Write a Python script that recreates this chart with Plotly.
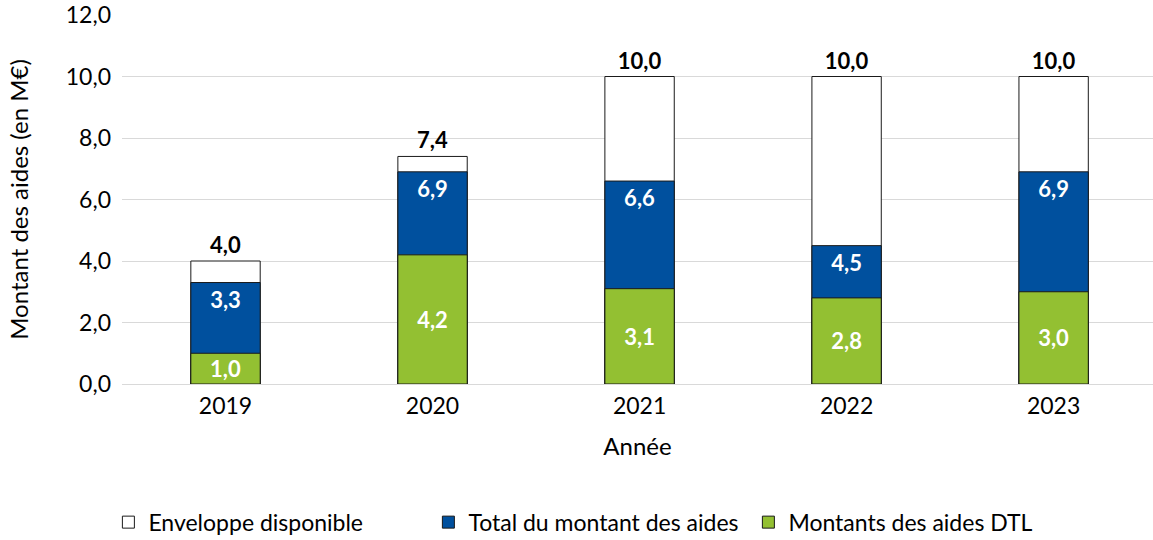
import plotly.graph_objects as go

years = ["2019", "2020", "2021", "2022", "2023"]
enveloppe = [4.0, 7.4, 10.0, 10.0, 10.0]
total_aides = [3.3, 6.9, 6.6, 4.5, 6.9]
aides_dtl = [1.0, 4.2, 3.1, 2.8, 3.0]

def fmt(v):
    return f"{v:.1f}".replace(".", ",")

FONT = "Lato, 'Open Sans', sans-serif"
line = dict(color="#1a1a1a", width=1)
LBL = 22

fig = go.Figure()
fig.add_trace(go.Bar(
    x=years, y=enveloppe, name="Enveloppe disponible",
    marker=dict(color="#ffffff", line=line),
    text=[fmt(v) for v in enveloppe], textposition="outside",
    textfont=dict(family=FONT, size=LBL, color="#000000", weight="bold"),
    cliponaxis=False, width=0.335,
))
fig.add_trace(go.Bar(
    x=years, y=total_aides, name="Total du montant des aides",
    marker=dict(color="#00509e", line=line),
    text=[fmt(v) for v in total_aides], textposition="inside", insidetextanchor="end",
    textfont=dict(family=FONT, size=LBL, color="#ffffff", weight="bold"),
    constraintext="none", width=0.335,
))
fig.add_trace(go.Bar(
    x=years, y=aides_dtl, name="Montants des aides DTL",
    marker=dict(color="#93c032", line=line),
    text=[fmt(v) for v in aides_dtl], textposition="inside", insidetextanchor="middle",
    textfont=dict(family=FONT, size=LBL, color="#ffffff", weight="bold"),
    constraintext="none", width=0.335,
))

fig.update_layout(
    width=1153, height=540,
    barmode="overlay",
    paper_bgcolor="white", plot_bgcolor="white",
    margin=dict(l=122, r=0, t=15, b=156, autoexpand=False),
    font=dict(family=FONT, size=22, color="#000000"),
    showlegend=True,
    legend=dict(orientation="h", x=0.094, xref="container", xanchor="left",
                y=0.033, yref="container", yanchor="middle",
                font=dict(size=23), traceorder="normal", itemwidth=30,
                entrywidth=275, entrywidthmode="pixels"),
    xaxis=dict(
        type="category", range=[-0.5, 4.48],
        title=dict(text="Année", font=dict(size=24), standoff=20),
        tickfont=dict(size=23), showgrid=False, showline=False, ticks="",
        ticklabelstandoff=6,
    ),
    yaxis=dict(
        range=[0, 12], dtick=2, tickformat=".1f",
        title=dict(text="Montant des aides (en M€)", font=dict(size=24), standoff=30),
        tickfont=dict(size=23), showgrid=True, gridcolor="#d9d9d9", gridwidth=1,
        zeroline=True, zerolinecolor="#d9d9d9", zerolinewidth=1,
        ticks="", ticklabelstandoff=10,
    ),
    separators=", ",
)

fig.write_html("out.html", config={"displayModeBar": False},
               post_script="document.body.style.margin='0';")
